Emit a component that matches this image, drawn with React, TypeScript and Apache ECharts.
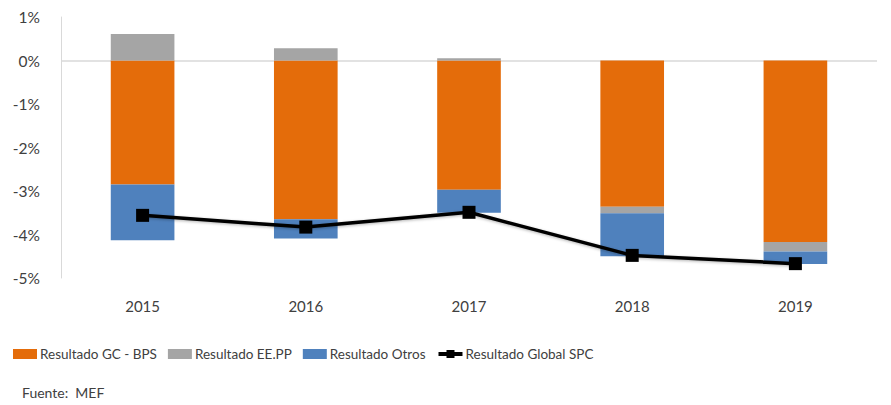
import React, { useEffect, useRef } from "react";
import * as echarts from "echarts";

const years = ["2015", "2016", "2017", "2018", "2019"];
const gcBps = [-2.85, -3.65, -2.97, -3.36, -4.17];
const eePP = [0.61, 0.28, 0.05, -0.15, -0.22];
const otros = [-1.28, -0.44, -0.53, -0.99, -0.29];
const globalSpc = [-3.56, -3.83, -3.49, -4.48, -4.67];

const FONT = "Lato, 'Open Sans', sans-serif";
const TXT = "#404040";

export default function App() {
  const ref = useRef<HTMLDivElement>(null);
  useEffect(() => {
    document.body.style.margin = "0";
    const chart = echarts.init(ref.current!, undefined, { renderer: "svg" });
    chart.setOption({
      animation: false,
      textStyle: { fontFamily: FONT },
      grid: { left: 61, right: 14, top: 17, bottom: 127, containLabel: false },
      legend: {
        data: [
          { name: "Resultado GC - BPS", icon: "rect" },
          { name: "Resultado EE.PP", icon: "rect" },
          { name: "Resultado Otros", icon: "rect" },
          { name: "Resultado Global SPC", lineStyle: { width: 4 }, itemStyle: {} },
        ],
        left: 13,
        top: 347,
        itemWidth: 24,
        itemHeight: 10,
        itemGap: 11,
        padding: 0,
        textStyle: { color: TXT, fontSize: 13.5, fontFamily: FONT, padding: [0, 0, 0, -2] },
      },
      graphic: [
        {
          type: "text",
          left: 22,
          top: 385,
          style: { text: "Fuente:  MEF", fill: TXT, fontSize: 14, fontFamily: FONT },
        },
      ],
      xAxis: {
        type: "category",
        data: years,
        axisLine: { show: false },
        axisTick: { show: false },
        axisLabel: { color: TXT, fontSize: 15, margin: 20, fontFamily: FONT },
      },
      yAxis: {
        type: "value",
        min: -5,
        max: 1,
        interval: 1,
        axisLine: { show: true, lineStyle: { color: "#d9d9d9", width: 1 } },
        axisTick: { show: false },
        splitLine: { show: false },
        axisLabel: { color: TXT, fontSize: 15.5, margin: 21, formatter: "{value}%", fontFamily: FONT },
      },
      series: [
        {
          name: "Resultado GC - BPS",
          type: "bar",
          stack: "a",
          barWidth: "39%",
          data: gcBps,
          itemStyle: { color: "#E46C0A" },
          markLine: {
            silent: true,
            symbol: "none",
            label: { show: false },
            lineStyle: { color: "#d9d9d9", type: "solid", width: 1.5 },
            data: [{ yAxis: 0 }],
            z: 1,
          },
        },
        {
          name: "Resultado EE.PP",
          type: "bar",
          stack: "a",
          data: eePP,
          itemStyle: { color: "#A5A5A5" },
        },
        {
          name: "Resultado Otros",
          type: "bar",
          stack: "a",
          data: otros,
          itemStyle: { color: "#4F81BD" },
        },
        {
          name: "Resultado Global SPC",
          type: "line",
          data: globalSpc,
          symbol: "rect",
          symbolSize: 13,
          itemStyle: { color: "#000000" },
          lineStyle: { color: "#000000", width: 3.5, shadowColor: "rgba(0,0,0,0.3)", shadowBlur: 3, shadowOffsetY: 1 },
          z: 5,
        },
      ],
    });
    return () => chart.dispose();
  }, []);
  return <div ref={ref} style={{ position: "absolute", left: 0, top: 0, width: 891, height: 405 }} />;
}
